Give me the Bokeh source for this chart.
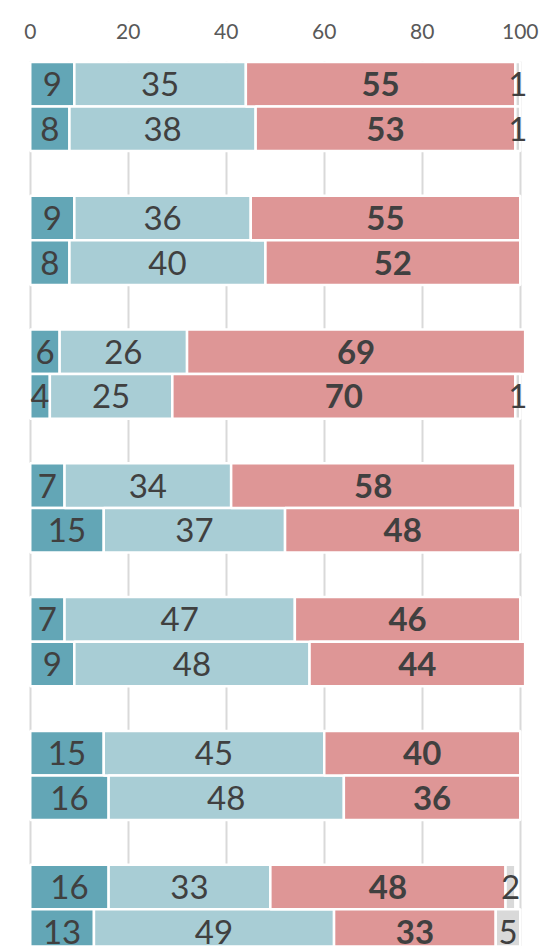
import numpy as np
from bokeh.plotting import figure
from bokeh.models import ColumnDataSource, Range1d, FixedTicker
from bokeh.core.properties import value
from bokeh.embed import file_html
from bokeh.resources import INLINE

# ---- data (bars listed top to bottom, two bars per group) ----
group_index = [0, 0, 1, 1, 2, 2, 3, 3, 4, 4, 5, 5, 6, 6]
bar_in_group = [0, 1, 0, 1, 0, 1, 0, 1, 0, 1, 0, 1, 0, 1]
series_a = [9, 8, 9, 8, 6, 4, 7, 15, 7, 9, 15, 16, 16, 13]
series_b = [35, 38, 36, 40, 26, 25, 34, 37, 47, 48, 45, 48, 33, 49]
series_c = [55, 53, 55, 52, 69, 70, 58, 48, 46, 44, 40, 36, 48, 33]
series_d = [1, 1, 0, 0, 0, 1, 0, 0, 0, 0, 0, 0, 2, 5]
x_ticks = [0, 20, 40, 60, 80, 100]

colors = ["#63A6B6", "#A8CDD5", "#DE9696", "#D9D9D9"]
bold = [False, False, True, False]

# ---- layout constants (pixels) ----
W, H = 540, 946
top_border = 61
left_border, right_border = 20, 4
px_per_unit = 4.9
zero_px = 29.75          # figure x of value 0
slot_px = 44.6           # pixel height of one category slot
first_center_px = 83.7   # figure y of the first bar's centre

frame_h = H - top_border
frame_w = W - left_border - right_border
x_start = -(zero_px - left_border) / px_per_unit
x_end = x_start + frame_w / px_per_unit
y_top = -(first_center_px - top_border) / slot_px
y_bottom = y_top + frame_h / slot_px

p = figure(width=W, height=H, output_backend="svg", toolbar_location=None,
           x_range=Range1d(x_start, x_end), y_range=Range1d(y_bottom, y_top),
           x_axis_location="above", y_axis_location=None,
           min_border_top=top_border, min_border_left=left_border,
           min_border_right=right_border, min_border_bottom=0)
p.outline_line_color = None
p.background_fill_color = "white"
p.border_fill_color = "white"

ax = p.xaxis[0]
ax.ticker = FixedTicker(ticks=x_ticks)
ax.axis_line_color = None
ax.major_tick_line_color = None
ax.minor_tick_line_color = None
ax.major_tick_out = 0
ax.major_tick_in = 0
ax.major_label_standoff = 23
ax.major_label_text_font = "Lato"
ax.major_label_text_font_size = "21px"
ax.major_label_text_color = "#595959"

p.xgrid.ticker = FixedTicker(ticks=x_ticks)
p.xgrid.grid_line_color = "#D9D9D9"
p.xgrid.grid_line_width = 2
p.ygrid.visible = False

# positions: two bars per group plus one blank slot between groups
ypos = np.array([3 * g + b for g, b in zip(group_index, bar_in_group)], dtype=float)
series = [np.array(s, dtype=float) for s in (series_a, series_b, series_c, series_d)]
left = np.zeros(len(ypos))
for vals, col, is_bold in zip(series, colors, bold):
    right = left + vals
    mask = vals > 0
    src = ColumnDataSource(dict(y=ypos[mask], left=left[mask], right=right[mask],
                                mid=((left + right) / 2)[mask],
                                lab=[str(int(v)) for v in vals[mask]]))
    p.hbar(y="y", left="left", right="right", height=1.0, source=src,
           fill_color=col, line_color="white", line_width=2.5)
    p.text(x="mid", y="y", text="lab", source=src, text_align="center",
           text_baseline="middle", text_font=value("Lato"),
           text_font_size="33px", text_color="#404040",
           text_font_style="bold" if is_bold else "normal")
    left = right

open("out.html", "w").write(file_html(p, INLINE))
